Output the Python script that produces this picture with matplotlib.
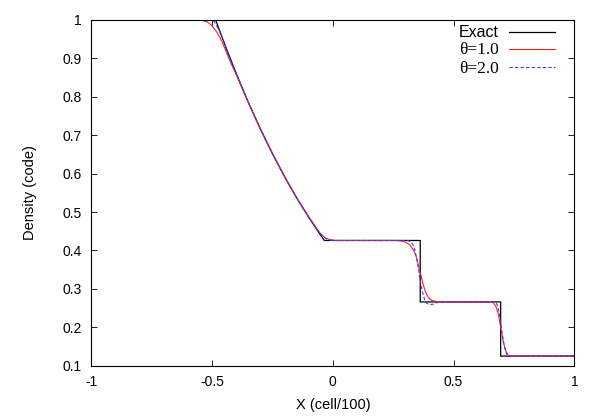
import numpy as np
import matplotlib
matplotlib.use("Agg")
import matplotlib.pyplot as plt

# exact Sod-type profile
x_exact = [-1.0, -0.485, -0.45, -0.40, -0.35, -0.30, -0.25, -0.20, -0.15, -0.10, -0.05, -0.035,
           0.362, 0.362, 0.695, 0.695, 1.0]
rho_exact = [1.0, 1.0, 0.9405, 0.8605, 0.7857, 0.7165, 0.6523, 0.5925, 0.5374, 0.4865, 0.4393, 0.426,
             0.426, 0.266, 0.266, 0.125, 0.125]

# theta = 1.0 (more diffusive)
x_t1 = [-1.0, -0.56, -0.54, -0.52, -0.50, -0.48, -0.46, -0.44, -0.42, -0.40, -0.35, -0.30, -0.25,
        -0.20, -0.15, -0.10, -0.07, -0.05, -0.03, -0.01, 0.01, 0.26, 0.28, 0.30, 0.32, 0.335, 0.345,
        0.355, 0.365, 0.375, 0.385, 0.395, 0.41, 0.43, 0.45, 0.65, 0.665, 0.675, 0.685, 0.695, 0.705,
        0.715, 0.725, 0.735, 1.0]
rho_t1 = [1.0, 1.0, 0.999, 0.995, 0.985, 0.968, 0.945, 0.915, 0.885, 0.858, 0.785, 0.716, 0.652,
          0.592, 0.537, 0.488, 0.460, 0.443, 0.432, 0.428, 0.426, 0.426, 0.425, 0.422, 0.414, 0.400, 0.385,
          0.360, 0.335, 0.310, 0.290, 0.278, 0.270, 0.267, 0.266, 0.266, 0.264, 0.255, 0.235, 0.200, 0.165,
          0.140, 0.128, 0.125, 0.125]

# theta = 2.0 (sharper, small undershoot)
x_t2 = [-1.0, -0.50, -0.49, -0.47, -0.45, -0.43, -0.40, -0.35, -0.30, -0.25, -0.20, -0.15, -0.10,
        -0.06, -0.04, -0.02, 0.0, 0.30, 0.315, 0.33, 0.34, 0.35, 0.36, 0.37, 0.38, 0.39, 0.40, 0.415,
        0.43, 0.44, 0.67, 0.68, 0.69, 0.70, 0.71, 0.72, 0.73, 1.0]
rho_t2 = [1.0, 1.0, 0.995, 0.972, 0.942, 0.905, 0.860, 0.786, 0.716, 0.652, 0.592, 0.537, 0.487,
          0.450, 0.436, 0.428, 0.426, 0.426, 0.425, 0.418, 0.400, 0.370, 0.330, 0.295, 0.272, 0.262, 0.259,
          0.260, 0.264, 0.266, 0.266, 0.260, 0.235, 0.190, 0.150, 0.130, 0.125, 0.125]

plt.rcParams['font.family'] = ['Liberation Sans', 'DejaVu Sans']

fig = plt.figure(figsize=(6, 4.2), dpi=100)
ax = fig.add_axes([0.1522, 0.1293, 0.805, 0.8231])

ax.plot(x_exact, rho_exact, color='black', lw=0.9, label='Exact')
ax.plot(x_t1, rho_t1, color='#ff2020', lw=0.8, label='\u03b8=1.0')
ax.plot(x_t2, rho_t2, color='#3a3aff', lw=0.8, ls=(0, (3, 2)), label='\u03b8=2.0')

ax.set_xlim(-1, 1)
ax.set_ylim(0.1, 1)
ax.set_xticks([-1, -0.5, 0, 0.5, 1])
ax.set_xticklabels(['-1', '-0.5', '0', '0.5', '1'])
ax.set_yticks(np.arange(0.1, 1.01, 0.1))
ax.set_yticklabels(['0.1', '0.2', '0.3', '0.4', '0.5', '0.6', '0.7', '0.8', '0.9', '1'])
ax.tick_params(direction='in', top=True, right=True, labelsize=10, length=4, width=0.6, pad=7)
for s in ax.spines.values():
    s.set_linewidth(0.8)

ax.set_xlabel('X (cell/100)', fontsize=10.5, labelpad=6)
ax.set_ylabel('Density (code)', fontsize=10.5, labelpad=18)

leg = ax.legend(loc='upper right', bbox_to_anchor=(0.96, 0.985), frameon=False, markerfirst=False,
                fontsize=11, handlelength=3.0, borderaxespad=0, borderpad=0,
                labelspacing=0.15, handletextpad=0.65)
texts = leg.get_texts()
texts[0].set_fontsize(11.5)
for t in texts[1:]:
    t.set_fontfamily(['Liberation Serif', 'DejaVu Serif'])
    t.set_fontsize(12.5)

fig.savefig('out.png', dpi=100)
